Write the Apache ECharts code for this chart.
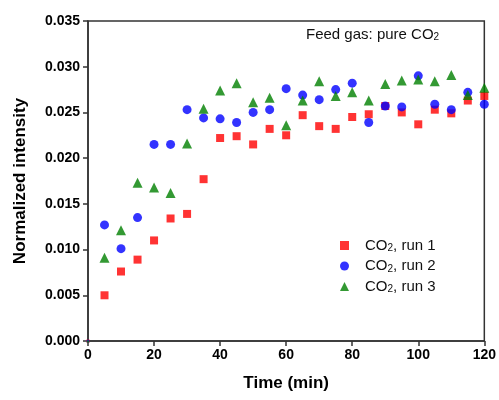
<!DOCTYPE html>
<html>
<head>
<meta charset="utf-8">
<script src="https://cdn.jsdelivr.net/npm/echarts@6/dist/echarts.min.js"></script>
<style>
  html, body { margin: 0; padding: 0; background: #fff; }
  #chart { width: 499px; height: 400px; }
</style>
</head>
<body>
<div id="chart"></div>
<script>
// Sampling times (min)
var time = [0, 5, 10, 15, 20, 25, 30, 35, 40, 45, 50, 55, 60, 65, 70, 75, 80, 85, 90, 95, 100, 105, 110, 115, 120];

// Normalized CO2 intensity for three repeat runs
var run1 = [0, 0.0050, 0.0076, 0.0089, 0.0110, 0.0134, 0.0139, 0.0177, 0.0222, 0.0224, 0.0215, 0.0232, 0.0225,
            0.0247, 0.0235, 0.0232, 0.0245, 0.0248, 0.0257, 0.0250, 0.0237, 0.0253, 0.0249, 0.0263, 0.0268];
var run2 = [0, 0.0127, 0.0101, 0.0135, 0.0215, 0.0215, 0.0253, 0.0244, 0.0243, 0.0239, 0.0250, 0.0253, 0.0276,
            0.0269, 0.0264, 0.0275, 0.0282, 0.0239, 0.0257, 0.0256, 0.0290, 0.0259, 0.0253, 0.0272, 0.0259];
var run3 = [0, 0.0091, 0.0121, 0.0173, 0.0168, 0.0162, 0.0216, 0.0254, 0.0274, 0.0282, 0.0261, 0.0266, 0.0236,
            0.0263, 0.0284, 0.0268, 0.0272, 0.0263, 0.0281, 0.0285, 0.0286, 0.0284, 0.0291, 0.0269, 0.0277];

var seriesNames = ['CO{s|2}, run 1', 'CO{s|2}, run 2', 'CO{s|2}, run 3'];
var xTicks = [0, 20, 40, 60, 80, 100, 120];
var yTicks = [0, 0.005, 0.010, 0.015, 0.020, 0.025, 0.030, 0.035];

var FONT = 'Arial, "Liberation Sans", sans-serif';
var AXIS = '#333';

function pairs(vals) {
  return time.map(function (t, i) { return [t, vals[i]]; });
}
function markerSize(base) {
  return function (v) { return v[0] === 0 ? 3 : base; };
}

var chart = echarts.init(document.getElementById('chart'), null, { renderer: 'canvas' });

chart.setOption({
  animation: false,
  backgroundColor: '#fff',
  grid: {
    left: 88, right: 13, top: 21, bottom: 59,
    show: true, borderColor: AXIS, borderWidth: 1.5, backgroundColor: 'transparent'
  },
  xAxis: {
    type: 'value',
    min: xTicks[0], max: xTicks[xTicks.length - 1], interval: 20,
    name: 'Time (min)', nameLocation: 'middle', nameGap: 34,
    nameTextStyle: { fontFamily: FONT, fontWeight: 'bold', fontSize: 17, color: '#000' },
    axisLine: { show: true, lineStyle: { color: AXIS, width: 1.5 } },
    axisTick: { show: true, inside: false, length: 5, lineStyle: { color: AXIS, width: 1.5 } },
    axisLabel: { fontFamily: FONT, fontWeight: 'bold', fontSize: 14, color: '#000', margin: 7 },
    splitLine: { show: false }
  },
  yAxis: {
    type: 'value',
    min: yTicks[0], max: yTicks[yTicks.length - 1], interval: 0.005,
    name: 'Normalized intensity', nameLocation: 'middle', nameGap: 59,
    nameTextStyle: { fontFamily: FONT, fontWeight: 'bold', fontSize: 17, color: '#000' },
    axisLine: { show: true, lineStyle: { color: AXIS, width: 1.5 } },
    axisTick: { show: true, inside: false, length: 5, lineStyle: { color: AXIS, width: 1.5 } },
    axisLabel: {
      fontFamily: FONT, fontWeight: 'bold', fontSize: 14, color: '#000', margin: 8,
      formatter: function (v) { return v.toFixed(3); }
    },
    splitLine: { show: false }
  },
  legend: {
    left: 335, top: 233, orient: 'vertical', itemGap: 5,
    itemWidth: 9, itemHeight: 9,
    data: [
      { name: seriesNames[0], icon: 'rect' },
      { name: seriesNames[1], icon: 'circle' },
      { name: seriesNames[2], icon: 'triangle' }
    ],
    formatter: function (n) {
      var parts = n.split('{s|2}');
      return '{b|' + parts[0] + '}{s|2}{a|' + parts[1] + '}';
    },
    textStyle: {
      fontFamily: FONT, fontSize: 15, color: '#111',
      rich: {
        a: { fontFamily: FONT, fontSize: 15, color: '#111' },
        b: { fontFamily: FONT, fontSize: 15, color: '#111', padding: [0, 0, 0, 11] },
        s: { fontFamily: FONT, fontSize: 10, color: '#111', padding: [6, 0, 0, 0] }
      }
    }
  },
  graphic: [
    {
      type: 'text', left: 306, top: 27,
      style: {
        text: '{a|Feed gas: pure CO}{s|2}',
        rich: {
          a: { fontFamily: FONT, fontSize: 15, fill: '#111' },
          s: { fontFamily: FONT, fontSize: 10, fill: '#111', padding: [6, 0, 0, 0] }
        }
      }
    }
  ],
  series: [
    {
      name: seriesNames[0], type: 'scatter', data: pairs(run1),
      symbol: 'rect', symbolSize: markerSize(8),
      itemStyle: { color: '#ff0000' }
    },
    {
      name: seriesNames[1], type: 'scatter', data: pairs(run2),
      symbol: 'circle', symbolSize: markerSize(9),
      itemStyle: { color: '#0000ff' }
    },
    {
      name: seriesNames[2], type: 'scatter', data: pairs(run3),
      symbol: 'triangle', symbolSize: markerSize(10),
      itemStyle: { color: '#008000' }
    }
  ]
});
</script>
</body>
</html>
